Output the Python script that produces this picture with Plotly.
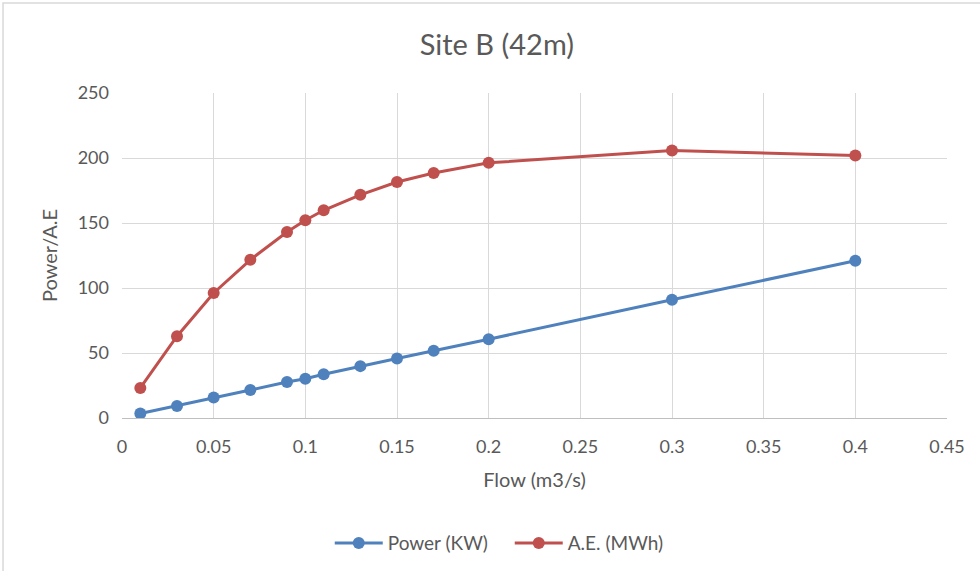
import plotly.graph_objects as go

flow = [0.01, 0.03, 0.05, 0.07, 0.09, 0.10, 0.11, 0.13, 0.15, 0.17, 0.20, 0.30, 0.40]
power_kw = [3.4, 9.3, 15.7, 21.5, 27.7, 30.2, 33.6, 39.9, 45.8, 51.7, 60.6, 91.0, 120.9]
ae_mwh = [23.1, 62.9, 96.2, 121.7, 143.1, 152.1, 159.8, 171.7, 181.5, 188.4, 196.3, 205.7, 201.9]

x_ticks = [0, 0.05, 0.1, 0.15, 0.2, 0.25, 0.3, 0.35, 0.4, 0.45]
x_tick_labels = ["0", "0.05", "0.1", "0.15", "0.2", "0.25", "0.3", "0.35", "0.4", "0.45"]
y_ticks = [0, 50, 100, 150, 200, 250]

font_family = "Lato, 'Open Sans', sans-serif"
text_color = "#595959"

fig = go.Figure()
fig.add_trace(go.Scatter(
    x=flow, y=power_kw, name="Power (KW)", mode="lines+markers",
    line=dict(color="#4f81bd", width=3),
    marker=dict(color="#4f81bd", size=12),
))
fig.add_trace(go.Scatter(
    x=flow, y=ae_mwh, name="A.E. (MWh)", mode="lines+markers",
    line=dict(color="#c0504d", width=3),
    marker=dict(color="#c0504d", size=12),
))

fig.update_layout(
    width=980, height=571,
    paper_bgcolor="white", plot_bgcolor="white",
    margin=dict(l=122, r=33, t=93, b=153, autoexpand=False),
    font=dict(family=font_family, color=text_color, size=18),
    title=dict(text="Site B (42m)", x=0.507, xanchor="center", y=0.921, yanchor="middle",
               font=dict(size=29, color=text_color, family=font_family)),
    showlegend=True,
    legend=dict(orientation="h", x=0.47, xanchor="center", y=-0.385, yanchor="middle",
                entrywidth=117, itemwidth=48,
                font=dict(size=19, color=text_color, family=font_family)),
    xaxis=dict(
        range=[0, 0.45], tickvals=x_ticks, ticktext=x_tick_labels,
        showgrid=True, gridcolor="#d9d9d9", gridwidth=1,
        showline=True, linecolor="#bfbfbf", linewidth=1,
        zeroline=False, ticks="", ticklabelstandoff=12,
        title=dict(text="Flow (m3/s)", font=dict(size=20, color=text_color), standoff=17),
        tickfont=dict(size=18, color=text_color),
    ),
    yaxis=dict(
        range=[0, 250], tickvals=y_ticks,
        showgrid=True, gridcolor="#d9d9d9", gridwidth=1,
        showline=False, zeroline=False, ticks="", ticklabelstandoff=12,
        title=dict(text="Power/A.E", font=dict(size=20, color=text_color), standoff=14),
        tickfont=dict(size=18, color=text_color),
    ),
)

fig.add_shape(type="rect", xref="paper", yref="paper",
              x0=-0.1442, x1=1.2, y0=-0.8, y1=1.277,
              line=dict(color="#d9d9d9", width=1.5), layer="below")

fig.write_html("out.html", config={"displayModeBar": False},
               post_script="document.body.style.margin='0';")
